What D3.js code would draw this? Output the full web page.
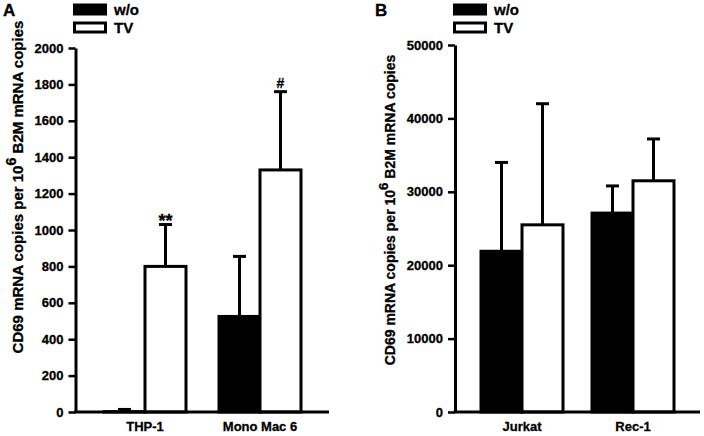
<!DOCTYPE html>
<html>
<head>
<meta charset="utf-8">
<script src="https://cdn.jsdelivr.net/npm/d3@7"></script>
<style>
  html, body { margin: 0; padding: 0; background: #fff; }
  svg { display: block; }
  text { font-family: Arial, "Liberation Sans", sans-serif; font-weight: bold; fill: #000; stroke: #000; stroke-width: 0.3px; }
</style>
</head>
<body>
<svg id="chart" width="704" height="436"></svg>
<script>
// ---- Data ----
const series = ["w/o", "TV"];

const catsA = ["THP-1", "Mono Mac 6"];
const woA = [2, 525];
const woErrA = [12, 330];
const tvA = [800, 1330];
const tvErrA = [230, 430];
const ticksA = [0, 200, 400, 600, 800, 1000, 1200, 1400, 1600, 1800, 2000];
const marksA = ["**", "#"]; // above TV bars

const catsB = ["Jurkat", "Rec-1"];
const woB = [21900, 27100];
const woErrB = [12100, 3700];
const tvB = [25500, 31500];
const tvErrB = [16500, 5700];
const ticksB = [0, 10000, 20000, 30000, 40000, 50000];

const yTitle = ["CD69 mRNA copies per 10", "6", " B2M mRNA copies"];

const svg = d3.select("#chart");

function panel(opt) {
  const g = svg.append("g");
  const y = d3.scaleLinear().domain(opt.domain).range([412, opt.top]);
  const x0 = d3.scaleBand().domain(opt.cats).range(opt.xr).padding(0);
  const bw = 41;
  const x1 = d3.scaleBand().domain(series)
    .range([x0.bandwidth() / 2 - bw, x0.bandwidth() / 2 + bw]).padding(0);

  const rows = [];
  opt.cats.forEach((c, i) => {
    rows.push({ c, s: "w/o", v: opt.wo[i], e: opt.woErr[i], m: null });
    rows.push({ c, s: "TV", v: opt.tv[i], e: opt.tvErr[i], m: opt.marks ? opt.marks[i] : null });
  });

  // error bars (drawn first so bar covers the start)
  const eb = g.append("g");
  rows.forEach(d => {
    const cx = x0(d.c) + x1(d.s) + x1.bandwidth() / 2;
    const yt = y(d.v + d.e);
    eb.append("line").attr("x1", cx).attr("x2", cx).attr("y1", y(d.v)).attr("y2", yt)
      .attr("stroke", "#000").attr("stroke-width", 3);
    eb.append("line").attr("x1", cx - 6.5).attr("x2", cx + 6.5).attr("y1", yt).attr("y2", yt)
      .attr("stroke", "#000").attr("stroke-width", 3);
    if (d.m) {
      const fs = d.m === "**" ? 18 : 14;
      const dy = d.m === "**" ? 2 : -4;
      g.append("text").attr("x", cx).attr("y", yt + dy).attr("text-anchor", "middle")
        .attr("font-size", fs).text(d.m);
    }
  });

  // bars
  g.append("g").selectAll("rect").data(rows).join("rect")
    .attr("x", d => x0(d.c) + x1(d.s))
    .attr("y", d => y(d.v))
    .attr("width", x1.bandwidth())
    .attr("height", d => y(0) - y(d.v))
    .attr("fill", d => d.s === "w/o" ? "#000" : "#fff")
    .attr("stroke", "#000").attr("stroke-width", 3);

  // y axis
  const ya = g.append("g").attr("transform", `translate(${opt.ax},0)`)
    .call(d3.axisLeft(y).tickValues(opt.ticks).tickSize(7).tickPadding(5).tickSizeOuter(0)
      .tickFormat(d3.format("d")));
  ya.select(".domain").attr("stroke-width", 3);
  ya.selectAll(".tick line").attr("stroke-width", 2.5);
  ya.selectAll(".tick text").attr("font-size", 13).attr("font-family", "Arial, 'Liberation Sans', sans-serif")
    .attr("font-weight", "bold");

  // x axis
  const xa = g.append("g").attr("transform", "translate(0,412)")
    .call(d3.axisBottom(x0).tickSize(0).tickPadding(10));
  xa.select(".domain").attr("d", `M${opt.ax - 1.5},0H${opt.xend}`).attr("stroke-width", 3);
  xa.selectAll(".tick text").attr("font-size", 13).attr("font-family", "Arial, 'Liberation Sans', sans-serif")
    .attr("font-weight", "bold");

  // y title
  const t = g.append("text")
    .attr("transform", `translate(${opt.tx},${opt.ty}) rotate(-90)`)
    .attr("text-anchor", "middle").attr("font-size", opt.tfs);
  t.append("tspan").text(yTitle[0]);
  t.append("tspan").attr("dy", -opt.tfs * 0.5).attr("font-size", opt.tfs * 0.95).text(yTitle[1]);
  t.append("tspan").attr("dy", opt.tfs * 0.5).text(yTitle[2]);

  // legend
  const lg = g.append("g");
  series.forEach((s, i) => {
    lg.append("rect").attr("x", opt.lx + 1.5).attr("y", 5 + i * 18).attr("width", 31).attr("height", 9)
      .attr("fill", s === "w/o" ? "#000" : "#fff").attr("stroke", "#000").attr("stroke-width", 3);
    lg.append("text").attr("x", opt.lx + 41).attr("y", 15 + i * 18).attr("font-size", 15).text(s);
  });

  // panel letter
  g.append("text").attr("x", opt.px).attr("y", 16).attr("font-size", 17).text(opt.letter);
}

panel({
  cats: catsA, wo: woA, woErr: woErrA, tv: tvA, tvErr: tvErrA, marks: marksA,
  domain: [0, 2000], top: 48, ticks: ticksA, xr: [87.5, 317.5], ax: 75.5, xend: 329,
  tx: 23, ty: 187, tfs: 15, lx: 73, px: 3, letter: "A"
});
panel({
  cats: catsB, wo: woB, woErr: woErrB, tv: tvB, tvErr: tvErrB, marks: null,
  domain: [0, 50000], top: 45, ticks: ticksB, xr: [466.5, 688.5], ax: 455, xend: 700,
  tx: 395, ty: 210, tfs: 14, lx: 453, px: 375, letter: "B"
});
</script>
</body>
</html>
